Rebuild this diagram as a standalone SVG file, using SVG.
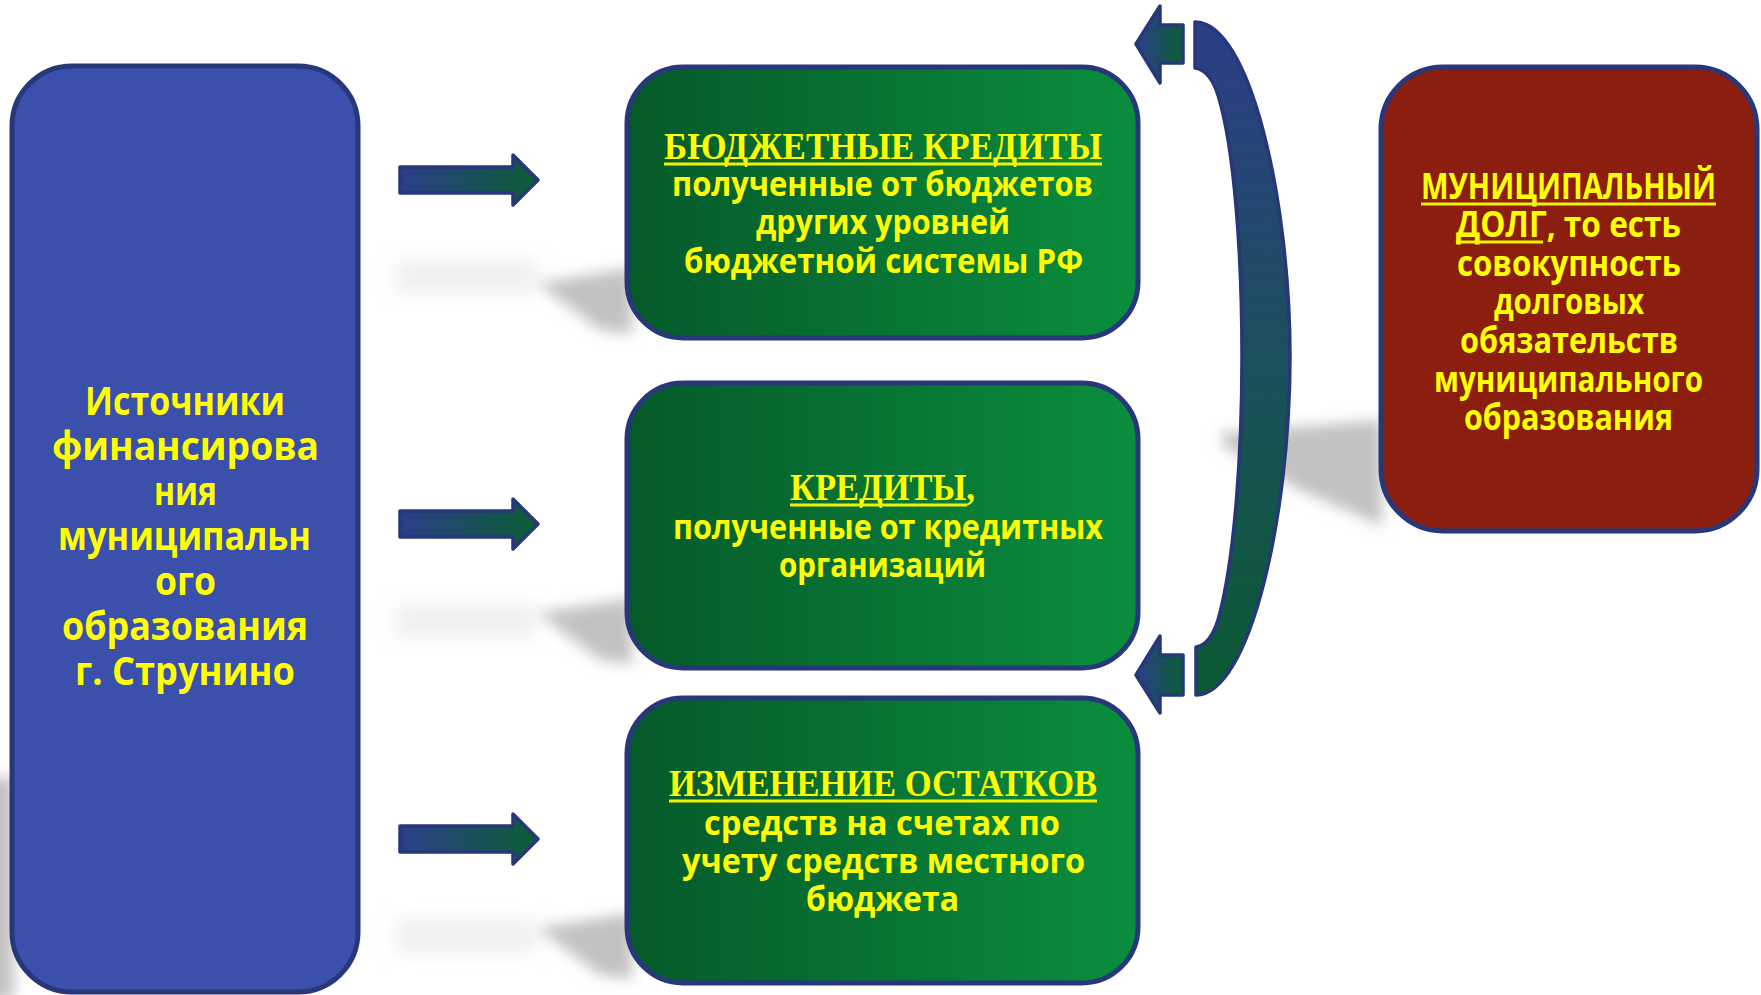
<svg xmlns="http://www.w3.org/2000/svg" width="1761" height="995" viewBox="0 0 1761 995">
<defs>
  <linearGradient id="gGreen" x1="0" y1="0" x2="1" y2="0">
    <stop offset="0" stop-color="#05592a"/>
    <stop offset="1" stop-color="#0a8e3d"/>
  </linearGradient>
  <linearGradient id="gArrowR" x1="0" y1="0" x2="1" y2="0">
    <stop offset="0" stop-color="#2c3f8a"/>
    <stop offset="1" stop-color="#0a5e33"/>
  </linearGradient>
  <linearGradient id="gArrowL" x1="0" y1="0" x2="1" y2="0">
    <stop offset="0" stop-color="#2c3f8a"/>
    <stop offset="1" stop-color="#0a5e33"/>
  </linearGradient>
  <linearGradient id="gBracket" gradientUnits="userSpaceOnUse" x1="0" y1="22" x2="0" y2="695">
    <stop offset="0" stop-color="#2b3e88"/>
    <stop offset="0.5" stop-color="#1c4f5c"/>
    <stop offset="1" stop-color="#0a5a33"/>
  </linearGradient>
  <filter id="blurS" x="-50%" y="-50%" width="200%" height="200%">
    <feGaussianBlur stdDeviation="7"/>
  </filter>
  <filter id="blurF" x="-50%" y="-50%" width="200%" height="200%">
    <feGaussianBlur stdDeviation="9"/>
  </filter>
</defs>
<style>
  .box { stroke: #27377a; stroke-width: 5; }
  .green { fill: url(#gGreen); }
  .arrow { stroke: #27377a; stroke-width: 3.5; stroke-linejoin: round; }
  .t { font-family: "Open Sans", "Liberation Sans", sans-serif; font-weight: 700; fill: #ffff00; }
  .ts { font-family: "Liberation Serif", "DejaVu Serif", serif; font-weight: 700; fill: #ffff00; }
  .ul { stroke: #f2f200; stroke-width: 3; }
  .shadow { fill: #c2c2c2; filter: url(#blurS); }
  .faint { fill: #f0f0f0; filter: url(#blurF); }
</style>
<rect width="1761" height="995" fill="#ffffff"/>

<g id="shadows">
  <polygon class="shadow" points="-30,785 14,775 14,1000 -30,1000"/>
  <rect class="faint" x="396" y="260" width="140" height="34"/>
  <rect class="faint" x="396" y="604" width="140" height="34"/>
  <rect class="faint" x="396" y="919" width="140" height="34"/>
  <polygon class="shadow" points="537,283 632,268 632,334 600,330"/>
  <polygon class="shadow" points="537,613 632,598 632,664 600,660"/>
  <polygon class="shadow" points="537,928 632,913 632,979 600,975"/>
  <polygon class="shadow" points="1220,433 1382,420 1382,526 1300,490 1224,446"/>
</g>

<g id="node-sources">
  <rect class="box" x="12" y="66" width="346" height="926" rx="60" ry="60" fill="#3a50aa" stroke-width="4"/>
  <text class="t" font-size="40" x="85" y="415" textLength="200" lengthAdjust="spacingAndGlyphs">Источники</text>
  <text class="t" font-size="40" x="52" y="460" textLength="267" lengthAdjust="spacingAndGlyphs">финансирова</text>
  <text class="t" font-size="40" x="154" y="505" textLength="63" lengthAdjust="spacingAndGlyphs">ния</text>
  <text class="t" font-size="40" x="58" y="550" textLength="253" lengthAdjust="spacingAndGlyphs">муниципальн</text>
  <text class="t" font-size="40" x="155" y="595" textLength="61" lengthAdjust="spacingAndGlyphs">ого</text>
  <text class="t" font-size="40" x="62" y="640" textLength="246" lengthAdjust="spacingAndGlyphs">образования</text>
  <text class="t" font-size="40" x="75" y="685" textLength="220" lengthAdjust="spacingAndGlyphs">г. Струнино</text>
</g>

<g id="node-budget-credits">
  <rect class="box green" x="627" y="67" width="511" height="271" rx="56" ry="56"/>
  <text class="ts" font-size="38" x="664" y="159" textLength="438" lengthAdjust="spacingAndGlyphs">БЮДЖЕТНЫЕ КРЕДИТЫ</text>
  <line class="ul" x1="664" y1="164" x2="1102" y2="164"/>
  <text class="t" font-size="34" x="672" y="196" textLength="421" lengthAdjust="spacingAndGlyphs">полученные от бюджетов</text>
  <text class="t" font-size="34" x="756" y="234" textLength="254" lengthAdjust="spacingAndGlyphs">других уровней</text>
  <text class="t" font-size="34" x="684" y="273" textLength="399" lengthAdjust="spacingAndGlyphs">бюджетной системы РФ</text>
</g>

<g id="node-credits">
  <rect class="box green" x="627" y="383" width="511" height="285" rx="56" ry="56"/>
  <text class="ts" font-size="38" x="790" y="500" textLength="185" lengthAdjust="spacingAndGlyphs">КРЕДИТЫ,</text>
  <line class="ul" x1="790" y1="505" x2="967" y2="505"/>
  <text class="t" font-size="34" x="673" y="539" textLength="430" lengthAdjust="spacingAndGlyphs">полученные от кредитных</text>
  <text class="t" font-size="34" x="779" y="577" textLength="207" lengthAdjust="spacingAndGlyphs">организаций</text>
</g>

<g id="node-balance-change">
  <rect class="box green" x="627" y="698" width="511" height="285" rx="56" ry="56"/>
  <text class="ts" font-size="38" x="669" y="796" textLength="428" lengthAdjust="spacingAndGlyphs">ИЗМЕНЕНИЕ ОСТАТКОВ</text>
  <line class="ul" x1="669" y1="801" x2="1097" y2="801"/>
  <text class="t" font-size="34" x="704" y="835" textLength="356" lengthAdjust="spacingAndGlyphs">средств на счетах по</text>
  <text class="t" font-size="34" x="682" y="873" textLength="403" lengthAdjust="spacingAndGlyphs">учету средств местного</text>
  <text class="t" font-size="34" x="806" y="911" textLength="153" lengthAdjust="spacingAndGlyphs">бюджета</text>
</g>

<g id="node-municipal-debt">
  <rect class="box" x="1381" y="67" width="376" height="464" rx="62" ry="62" fill="#8b1e0f"/>
  <text class="t" font-size="35" x="1421" y="199" textLength="295" lengthAdjust="spacingAndGlyphs">МУНИЦИПАЛЬНЫЙ</text>
  <line class="ul" x1="1421" y1="204" x2="1716" y2="204"/>
  <text class="t" font-size="35" x="1456" y="237" textLength="225" lengthAdjust="spacingAndGlyphs">ДОЛГ, то есть</text>
  <line class="ul" x1="1456" y1="242" x2="1543" y2="242"/>
  <text class="t" font-size="35" x="1457" y="276" textLength="224" lengthAdjust="spacingAndGlyphs">совокупность</text>
  <text class="t" font-size="35" x="1494" y="314" textLength="150" lengthAdjust="spacingAndGlyphs">долговых</text>
  <text class="t" font-size="35" x="1460" y="353" textLength="218" lengthAdjust="spacingAndGlyphs">обязательств</text>
  <text class="t" font-size="35" x="1434" y="392" textLength="269" lengthAdjust="spacingAndGlyphs">муниципального</text>
  <text class="t" font-size="35" x="1464" y="430" textLength="209" lengthAdjust="spacingAndGlyphs">образования</text>
</g>

<g id="connectors">
  <path class="arrow" fill="url(#gArrowR)" d="M400,167 L513,167 L513,155 L538,180 L513,205 L513,193 L400,193 Z"/>
  <path class="arrow" fill="url(#gArrowR)" d="M400,511 L513,511 L513,499 L538,524 L513,549 L513,537 L400,537 Z"/>
  <path class="arrow" fill="url(#gArrowR)" d="M400,826 L513,826 L513,814 L538,839 L513,864 L513,852 L400,852 Z"/>
  <path class="arrow" fill="url(#gBracket)" d="M1195,22 C1250,22 1290,200 1290,357 C1290,515 1250,695 1196,695 L1196,647 Q1210,645 1218,620 C1235,560 1242,450 1242,357 C1242,260 1235,150 1218,95 Q1210,70 1195,68 Z"/>
  <path class="arrow" fill="url(#gArrowL)" d="M1136,44 L1160,6 L1160,25 L1183,25 L1183,63 L1160,63 L1160,83 Z"/>
  <path class="arrow" fill="url(#gArrowL)" d="M1136,675 L1160,636 L1160,655 L1183,655 L1183,695 L1160,695 L1160,713 Z"/>
</g>
</svg>
